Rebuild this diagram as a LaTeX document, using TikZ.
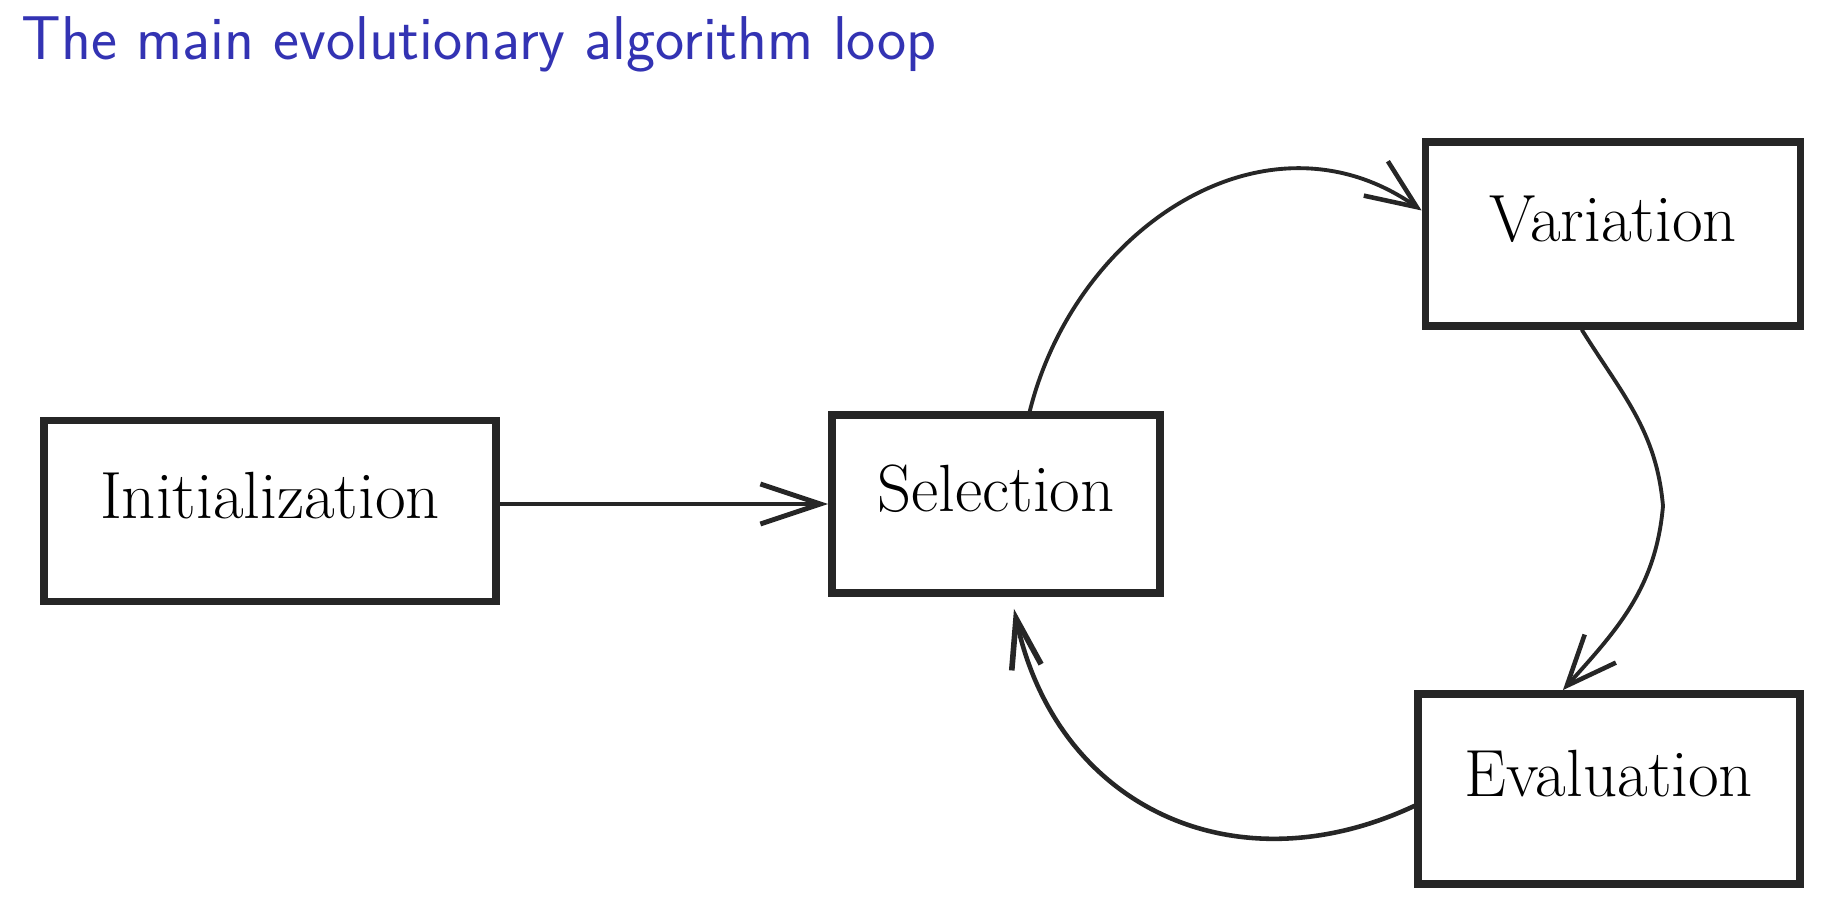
\documentclass[tikz,border=0pt]{standalone}
\usepackage{tikz}
\usetikzlibrary{arrows.meta,positioning,calc}
\definecolor{ink}{RGB}{38,38,38}
\definecolor{titleblue}{RGB}{51,51,179}
\tikzset{
    stage/.style={draw=ink, line width=2.2pt, inner sep=0pt,
        font=\fontsize{19}{22}\selectfont, text height=5mm, text depth=3.4mm},
    flow/.style={draw=ink, line width=1.1pt, line cap=round,
        -{Straight Barb[length=5mm,width=4.2mm,line width=1.3pt]}},
}

\begin{document}
\begin{tikzpicture}
        \useasboundingbox (0,0) rectangle (18.23,9.15);

        \node[anchor=base west, inner sep=0pt, text=titleblue, font=\fontsize{17.6}{21}\sffamily] (title)
            at (0.21,8.55) {The main evolutionary algorithm loop};

        \node[stage, minimum width=4.52cm, minimum height=1.81cm] (init) at (2.70,4.04) {Initialization};
        \node[stage, minimum width=3.28cm, minimum height=1.78cm] (sel) at (9.96,4.11) {Selection};
        \node[stage, minimum width=3.75cm, minimum height=1.84cm] (var) at (16.13,6.81) {Variation};
        \node[stage, minimum width=3.82cm, minimum height=1.90cm] (eval) at (16.09,1.26) {Evaluation};

        % the loop
        \coordinate (bend) at (16.63,4.09);
        \draw[flow, line width=1.3pt, -{Straight Barb[length=6mm,width=4mm,line width=1.4pt]}]
            (init.east |- sel.west) -- (sel.west);
        \draw[flow] (sel.70) to[out=76, in=145, looseness=1.1] (var.173);
        \draw[flow] (var.-108) to[out=-58, in=95] (bend) to[out=-95, in=48] (eval.115);
        \draw[flow, line width=1.3pt, -{Straight Barb[length=5mm,width=3mm,line width=1.6pt]}]
            (eval.185) to[out=205, in=-78, looseness=1.15] ([xshift=1.8mm,yshift=-1.2mm]sel.south);
    \end{tikzpicture}
\end{document}
